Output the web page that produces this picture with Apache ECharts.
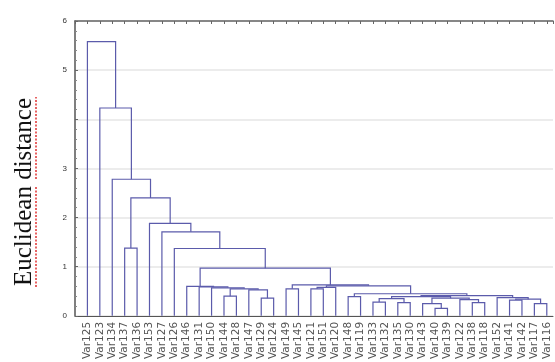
<!DOCTYPE html>
<html>
<head>
<meta charset="utf-8">
<script src="https://cdn.jsdelivr.net/npm/echarts@6/dist/echarts.min.js"></script>
<style>
  html, body { margin: 0; background: #fff; }
  #chart { width: 555px; height: 362px; }
</style>
</head>
<body>
<div id="chart"></div>
<script>
// leaf order, left to right
const labels = [
  'Var125', 'Var123', 'Var134', 'Var137', 'Var136', 'Var153', 'Var127', 'Var126',
  'Var146', 'Var131', 'Var150', 'Var144', 'Var128', 'Var147', 'Var129', 'Var124',
  'Var149', 'Var145', 'Var121', 'Var151', 'Var120', 'Var148', 'Var119', 'Var133',
  'Var132', 'Var135', 'Var130', 'Var143', 'Var140', 'Var139', 'Var122', 'Var138',
  'Var118', 'Var152', 'Var141', 'Var142', 'Var117', 'Var116'
];

// joins: [node a, node b, linkage distance]; leaves are 0..37, join k becomes node 38+k
const merges = [
  [28, 29, 0.15], [27, 38, 0.25], [31, 32, 0.27], [30, 40, 0.33], [39, 41, 0.36],
  [23, 24, 0.28], [25, 26, 0.27], [43, 44, 0.35], [45, 42, 0.39],
  [34, 35, 0.32], [36, 37, 0.25], [47, 48, 0.34], [33, 49, 0.37],
  [46, 50, 0.41], [21, 22, 0.39], [52, 51, 0.45],
  [18, 19, 0.55], [54, 20, 0.58], [55, 53, 0.61], [16, 17, 0.55], [57, 56, 0.63],
  [11, 12, 0.40], [14, 15, 0.36], [13, 60, 0.53], [59, 61, 0.55], [10, 62, 0.57],
  [9, 63, 0.59], [8, 64, 0.60],
  [65, 58, 0.97], [7, 66, 1.37], [6, 67, 1.71], [5, 68, 1.88],
  [3, 4, 1.38], [70, 69, 2.40], [2, 71, 2.78], [1, 72, 4.23], [0, 73, 5.58]
];

const yTickLabels = [0, 1, 2, 3, 5, 6];

const nodeX = labels.map((_, i) => i);
const nodeH = labels.map(() => 0);
const links = merges.map(([a, b, h]) => {
  const item = [nodeX[a], nodeX[b], nodeH[a], nodeH[b], h];
  nodeX.push((nodeX[a] + nodeX[b]) / 2);
  nodeH.push(h);
  return item;
});

const chart = echarts.init(document.getElementById('chart'));
chart.setOption({
  animation: false,
  backgroundColor: '#fff',
  grid: { left: 75, right: 2, top: 21, bottom: 46 },
  xAxis: [
    {
      type: 'value',
      min: -1,
      max: 37.5,
      interval: 1,
      splitLine: { show: false },
      axisLine: { onZero: false, lineStyle: { color: '#555', width: 1 } },
      axisTick: { show: false },
      axisLabel: {
        rotate: 90,
        fontSize: 10.5,
        color: '#555',
        margin: 6,
        fontFamily: 'DejaVu Sans',
        formatter: (v) => labels[v] || '',
      },
    },
    {
      type: 'value',
      position: 'top',
      min: -1,
      max: 37.5,
      interval: 1,
      splitLine: { show: false },
      axisLine: { onZero: false, lineStyle: { color: '#666', width: 1.5 } },
      axisTick: { inside: true, length: 3, lineStyle: { color: '#666' } },
      axisLabel: { show: false },
    },
  ],
  yAxis: {
    type: 'value',
    min: 0,
    max: 6,
    interval: 1,
    axisLine: { show: true, onZero: false, lineStyle: { color: '#555', width: 1.5 } },
    axisTick: { show: true, inside: true, length: 3, lineStyle: { color: '#666' } },
    minorTick: { show: true, splitNumber: 5, length: 2, lineStyle: { color: '#888' } },
    splitLine: { lineStyle: { color: '#e6e6e6', width: 1.5 } },
    axisLabel: {
      fontSize: 8,
      color: '#333',
      margin: 8,
      formatter: (v) => (yTickLabels.includes(v) ? String(v) : ''),
    },
  },
  graphic: [
    {
      type: 'text',
      x: 24,
      y: 192,
      rotation: Math.PI / 2,
      style: {
        text: 'Euclidean distance',
        font: '25px "Liberation Serif"',
        fill: '#111',
        align: 'center',
        verticalAlign: 'middle',
      },
    },
    {
      type: 'line',
      shape: { x1: 36, y1: 287, x2: 36, y2: 186 },
      style: { stroke: '#e03030', lineWidth: 1.5, lineDash: [2, 1.5] },
    },
    {
      type: 'line',
      shape: { x1: 36, y1: 179, x2: 36, y2: 97 },
      style: { stroke: '#e03030', lineWidth: 1.5, lineDash: [2, 1.5] },
    },
  ],
  series: [
    {
      type: 'custom',
      xAxisIndex: 0,
      data: links,
      encode: { x: [0, 1], y: [2, 3, 4] },
      renderItem: (params, api) => {
        const xa = api.value(0), xb = api.value(1);
        const ha = api.value(2), hb = api.value(3), h = api.value(4);
        return {
          type: 'polyline',
          shape: {
            points: [
              api.coord([xa, ha]),
              api.coord([xa, h]),
              api.coord([xb, h]),
              api.coord([xb, hb]),
            ],
          },
          style: { stroke: '#5b5bab', lineWidth: 1.2, fill: null },
        };
      },
    },
  ],
});
</script>
</body>
</html>
